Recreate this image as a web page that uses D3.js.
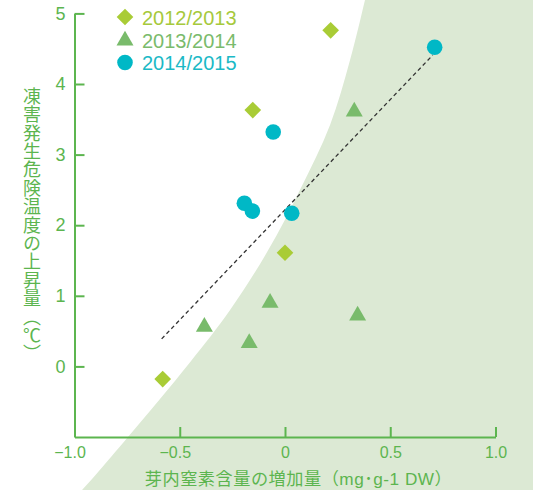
<!DOCTYPE html>
<html>
<head>
<meta charset="utf-8">
<script src="https://cdn.jsdelivr.net/npm/d3@7"></script>
<style>
  body { margin: 0; background: #fff; }
  svg { display: block; }
</style>
</head>
<body>
<div id="chart"></div>
<script>
// data
const seasons = ["2012/2013", "2013/2014", "2014/2015"];
// x: increase of bud nitrogen content (mg/g DW), y: rise of frost danger temperature (°C)
const x2012 = [0.217, -0.153, 0.0, -0.581];
const y2012 = [4.76, 3.63, 1.61, -0.18];
const x2013 = [0.329, -0.071, -0.383, -0.170, 0.345];
const y2013 = [3.61, 0.90, 0.56, 0.33, 0.72];
const x2014 = [0.711, -0.056, -0.193, -0.155, 0.032];
const y2014 = [4.52, 3.32, 2.31, 2.20, 2.17];
// dashed regression line end points
const trendX = [-0.586, 0.702];
const trendY = [0.39, 4.41];
// edge of the shaded zone (top to bottom)
const zoneX = [0.40, 0.380, 0.309, 0.214, 0.071, -0.081, -0.261, -0.451, -0.746, -0.964, -1.0];
const zoneY = [5.45, 5.19, 4.34, 3.42, 2.50, 1.64, 0.80, 0.06, -1.00, -1.75, -1.85];
const xTicks = [-1, -0.5, 0, 0.5, 1];
const yTicks = [0, 1, 2, 3, 4, 5];

const colors = ["#a9cc36", "#79bb6b", "#00b8c6"];
const textColors = ["#a6c93c", "#7abb6c", "#1bb9c6"];
const axisGreen = "#5cb54f";

const width = 533, height = 490;

const svg = d3.select("#chart")
    .append("svg")
    .attr("width", width)
    .attr("height", height);

const x = d3.scaleLinear().domain([-1, 1]).range([74.5, 495.5]);
const y = d3.scaleLinear().domain([-1, 5]).range([437, 13.4]);

// shaded zone
const edge = d3.line()
    .x(d => x(d[0]))
    .y(d => y(d[1]))
    .curve(d3.curveCatmullRom);
const edgePts = zoneX.map((v, i) => [v, zoneY[i]]);
svg.append("path")
    .attr("d", edge(edgePts) +
        "L" + (width + 20) + "," + (height + 20) +
        "L" + (width + 20) + ",-30Z")
    .attr("fill", "#dce9d4");

// axes
const fmt = d => d === 0 ? "0" : (d < 0 ? "\u2212" : "") + Math.abs(d).toFixed(1);

const gx = svg.append("g")
    .attr("transform", "translate(0," + y(-1) + ")")
    .attr("color", axisGreen)
    .call(d3.axisBottom(x).tickValues(xTicks).tickFormat(fmt)
        .tickSize(-10).tickSizeOuter(0).tickPadding(9.5));

const gy = svg.append("g")
    .attr("transform", "translate(" + x(-1) + ",0)")
    .attr("color", axisGreen)
    .call(d3.axisLeft(y).tickValues(yTicks).tickFormat(d3.format("d"))
        .tickSize(-10).tickSizeOuter(0).tickPadding(9));

gx.selectAll("path, line").attr("stroke-width", 2);
gy.selectAll("path, line").attr("stroke-width", 2);
gx.selectAll("text")
    .attr("font-family", "'Liberation Sans', Arial, sans-serif")
    .attr("font-size", 16)
    .attr("dx", d => d < 0 ? -5 : 0);
gy.selectAll("text")
    .attr("font-family", "'Liberation Sans', Arial, sans-serif")
    .attr("font-size", 18);

// trend line
svg.append("line")
    .attr("x1", x(trendX[0])).attr("y1", y(trendY[0]))
    .attr("x2", x(trendX[1])).attr("y2", y(trendY[1]))
    .attr("stroke", "#333")
    .attr("stroke-width", 1.3)
    .attr("stroke-dasharray", "4,3");

// markers
const shapes = [
    d3.symbol().type(d3.symbolSquare).size(139),
    d3.symbol().type(d3.symbolTriangle).size(125),
    d3.symbol().type(d3.symbolCircle).size(191)
];
const rot = [45, 0, 0];
const seriesX = [x2012, x2013, x2014];
const seriesY = [y2012, y2013, y2014];

seriesX.forEach((xs, s) => {
    svg.append("g")
        .selectAll("path")
        .data(xs.map((v, i) => [v, seriesY[s][i]]))
        .enter()
        .append("path")
        .attr("d", shapes[s])
        .attr("fill", colors[s])
        .attr("transform", d => "translate(" + x(d[0]) + "," + y(d[1]) + ") rotate(" + rot[s] + ")");
});

// legend
const leg = svg.append("g");
const legY = [17, 40.5, 62.5];
seasons.forEach((name, i) => {
    leg.append("path")
        .attr("d", shapes[i])
        .attr("fill", colors[i])
        .attr("transform", "translate(125," + legY[i] + ") rotate(" + rot[i] + ")");
    leg.append("text")
        .attr("x", 142)
        .attr("y", legY[i] + 7.6)
        .attr("fill", textColors[i])
        .attr("font-family", "'Liberation Sans', Arial, sans-serif")
        .attr("font-size", 20)
        .text(name);
});

// axis titles
svg.append("text")
    .attr("x", 298.5)
    .attr("y", 485)
    .attr("text-anchor", "middle")
    .attr("fill", axisGreen)
    .attr("font-family", "'Liberation Sans', 'Noto Sans CJK JP', sans-serif")
    .attr("font-size", 17.2)
    .attr("letter-spacing", 0.5)
    .text("芽内窒素含量の増加量（mg･g-1 DW）");

svg.append("text")
    .attr("x", 32)
    .attr("y", 87)
    .attr("fill", axisGreen)
    .attr("font-family", "'Noto Sans CJK JP', sans-serif")
    .attr("font-size", 18)
    .attr("letter-spacing", 0.4)
    .style("writing-mode", "vertical-rl")
    .text("凍害発生危険温度の上昇量（℃）");
</script>
</body>
</html>
